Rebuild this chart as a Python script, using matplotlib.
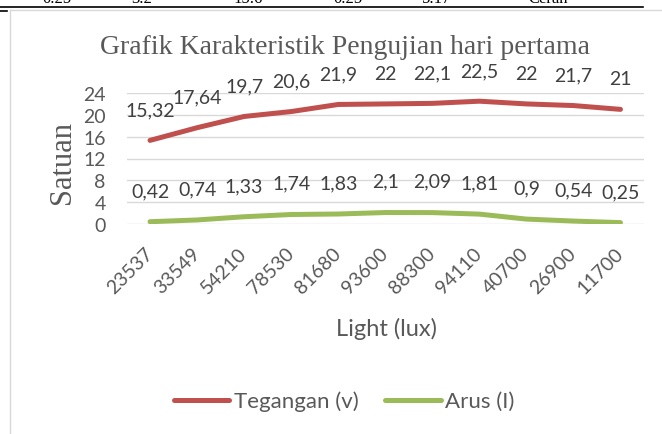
import matplotlib
matplotlib.use("Agg")
import matplotlib.pyplot as plt
from matplotlib.lines import Line2D

lux = ["23537", "33549", "54210", "78530", "81680", "93600", "88300", "94110", "40700", "26900", "11700"]
tegangan = [15.32, 17.64, 19.7, 20.6, 21.9, 22, 22.1, 22.5, 22, 21.7, 21]
arus = [0.42, 0.74, 1.33, 1.74, 1.83, 2.1, 2.09, 1.81, 0.9, 0.54, 0.25]
yticks = [0, 4, 8, 12, 16, 20, 24]
top_table = ["0.25", "3.2", "15.6", "0.25", "5.17", "Cerah"]
top_table_x = [57, 142, 248, 348, 437, 548]

W, H = 662, 435
fig = plt.figure(figsize=(W / 100, H / 100), dpi=100)

RED = "#C0504D"
GREEN = "#9BBB59"
GRAY = "#595959"
GRID = "#D9D9D9"
SANS = "Lato"
SERIF = "Liberation Serif"

def fx(px):
    return px / W

def fy(py):
    return 1 - py / H

# page decorations: table remnant and chart frame
fig.add_artist(Line2D([0, fx(643)], [fy(8), fy(8)], color="black", lw=1.2))
fig.add_artist(Line2D([0, fx(7)], [fy(12), fy(12)], color="black", lw=1.2))
fig.add_artist(Line2D([fx(10), 1], [fy(11), fy(11)], color="#D9D9D9", lw=1.0))
fig.add_artist(Line2D([fx(10), fx(10)], [fy(11), 0], color="#D9D9D9", lw=1.0))
for t, x in zip(top_table, top_table_x):
    fig.text(fx(x), fy(3), t, ha="center", va="baseline", fontsize=12, family=SERIF, color="black")

ax = fig.add_axes([fx(126.5), fy(225), fx(644) - fx(126.5), (225 - 94) / H])
x = list(range(len(lux)))
ax.plot(x, tegangan, color=RED, lw=3.6, solid_capstyle="round", solid_joinstyle="round", zorder=3)
ax.plot(x, arus, color=GREEN, lw=3.6, solid_capstyle="round", solid_joinstyle="round", zorder=3)

for xi, v in zip(x, tegangan):
    ax.annotate(str(v).replace(".", ","), (xi, v), xytext=(0, 22), textcoords="offset points",
                ha="center", va="center", fontsize=14, family=SANS, color="#404040")
for xi, v in zip(x, arus):
    ax.annotate(str(v).replace(".", ","), (xi, v), xytext=(0, 22.5), textcoords="offset points",
                ha="center", va="center", fontsize=14, family=SANS, color="#404040")

ax.set_xlim(-0.5, len(lux) - 0.5)
ax.set_ylim(0, 24)
ax.set_yticks(yticks)
ax.set_yticklabels([str(t) for t in yticks], fontsize=14, family=SANS, color=GRAY)
ax.set_xticks(x)
ax.set_xticklabels(lux, fontsize=14, family=SANS, color=GRAY, rotation=45, ha="right",
                   va="center", rotation_mode="anchor")
ax.tick_params(axis="both", length=0)
ax.tick_params(axis="y", pad=15)
ax.tick_params(axis="x", pad=19)
ax.grid(axis="y", color=GRID, lw=1.0)
ax.set_axisbelow(True)
for s in ax.spines.values():
    s.set_visible(False)

fig.text(fx(345), fy(48), "Grafik Karakteristik Pengujian hari pertama", ha="center", va="center",
         fontsize=20, family=SERIF, color=GRAY)
fig.text(fx(62), fy(163), "Satuan", ha="center", va="center", rotation=90,
         fontsize=22, family=SERIF, color=GRAY)
fig.text(fx(386), fy(329), "Light (lux)", ha="center", va="center",
         fontsize=17, family=SANS, color=GRAY)

handles = [Line2D([], [], color=RED, lw=3.6, solid_capstyle="round"),
           Line2D([], [], color=GREEN, lw=3.6, solid_capstyle="round")]
fig.legend(handles, ["Tegangan (v)", "Arus (I)"], loc="center", bbox_to_anchor=(fx(344), fy(402)),
           ncol=2, frameon=False, handlelength=2.5, handletextpad=0.2, columnspacing=1.2,
           prop={"family": SANS, "size": 16}, labelcolor=GRAY)

fig.savefig("out.png", dpi=100)
